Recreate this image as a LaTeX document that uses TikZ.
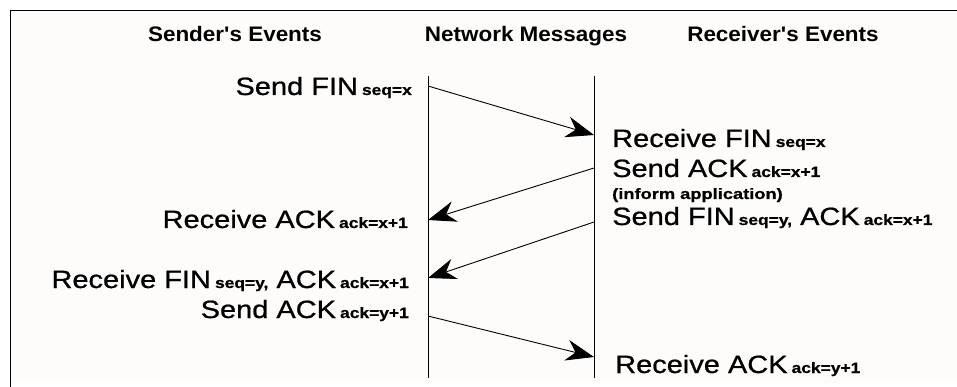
\documentclass[tikz,border=0pt]{standalone}
\usepackage{fontspec}
\setmainfont{Liberation Sans}
\newfontfamily\hdrfont[FakeStretch=1.07]{Liberation Sans}
\newfontfamily\evtfont[FakeStretch=1.16,FakeBold=0.8]{Liberation Sans}
\usetikzlibrary{arrows.meta}
% small bold field annotation after an event name
\newcommand\fld[1]{\hspace{4pt}{\fontsize{15}{15}\selectfont\bfseries #1}}
\definecolor{panel}{RGB}{253,252,250}
\begin{document}
\begin{tikzpicture}[x=1pt,y=-1pt,
  hdr/.style={font=\hdrfont\bfseries\fontsize{21}{21}\selectfont, anchor=base, inner sep=0pt},
  evtR/.style={font=\evtfont\fontsize{25}{25}\selectfont, anchor=base west, inner sep=0pt},
  evtL/.style={font=\evtfont\fontsize{25}{25}\selectfont, anchor=base east, inner sep=0pt},
  note/.style={font=\evtfont\bfseries\fontsize{15}{15}\selectfont, anchor=base west, inner sep=0pt},
  life/.style={line width=1pt},
  msg/.style={line width=0.9pt, -{Stealth[length=28pt,width=21pt,inset=9pt]}}]
\useasboundingbox (0,0) rectangle (957,387);

% panel and its open frame
\fill[panel] (10,11) rectangle (957,383);
\draw[line width=1pt] (10,387) -- (10,11) -- (957,11);

% column headings
\node[hdr] (hS) at (235,42) {Sender's Events};
\node[hdr] (hN) at (526,42) {Network Messages};
\node[hdr] (hR) at (783,42) {Receiver's Events};

% lifelines
\coordinate (sTop) at (428,76);
\coordinate (sBot) at (428,378);
\coordinate (rTop) at (594,76);
\coordinate (rBot) at (594,378);
\draw[life] (sTop) -- (sBot);
\draw[life] (rTop) -- (rBot);

% sender's events
\node[evtL] (s1) at (412,95)  {Send FIN\fld{seq=x}};
\node[evtL] (s2) at (408,228) {Receive ACK\fld{ack=x+1}};
\node[evtL] (s3) at (409,288) {Receive FIN\fld{seq=y,} ACK\fld{ack=x+1}};
\node[evtL] (s4) at (409,318) {Send ACK\fld{ack=y+1}};

% receiver's events
\node[evtR] (r1) at (612,147) {Receive FIN\fld{seq=x}};
\node[evtR] (r2) at (612,177) {Send ACK\fld{ack=x+1}};
\node[note,xscale=1.05] (r3) at (612,199) {(inform application)};
\node[evtR] (r4) at (612,225) {Send FIN\fld{seq=y,} ACK\fld{ack=x+1}};
\node[evtR] (r5) at (615,373) {Receive ACK\fld{ack=y+1}};

% message end points on the lifelines
\coordinate (m1a) at (428,86);  \coordinate (m1b) at (594,135);
\coordinate (m2a) at (594,168); \coordinate (m2b) at (428,220);
\coordinate (m3a) at (594,222); \coordinate (m3b) at (428,278);
\coordinate (m4a) at (428,316); \coordinate (m4b) at (594,357);

\draw[msg] (m1a) -- (m1b);
\draw[msg] (m2a) -- (m2b);
\draw[msg] (m3a) -- (m3b);
\draw[msg] (m4a) -- (m4b);
\end{tikzpicture}
\end{document}
